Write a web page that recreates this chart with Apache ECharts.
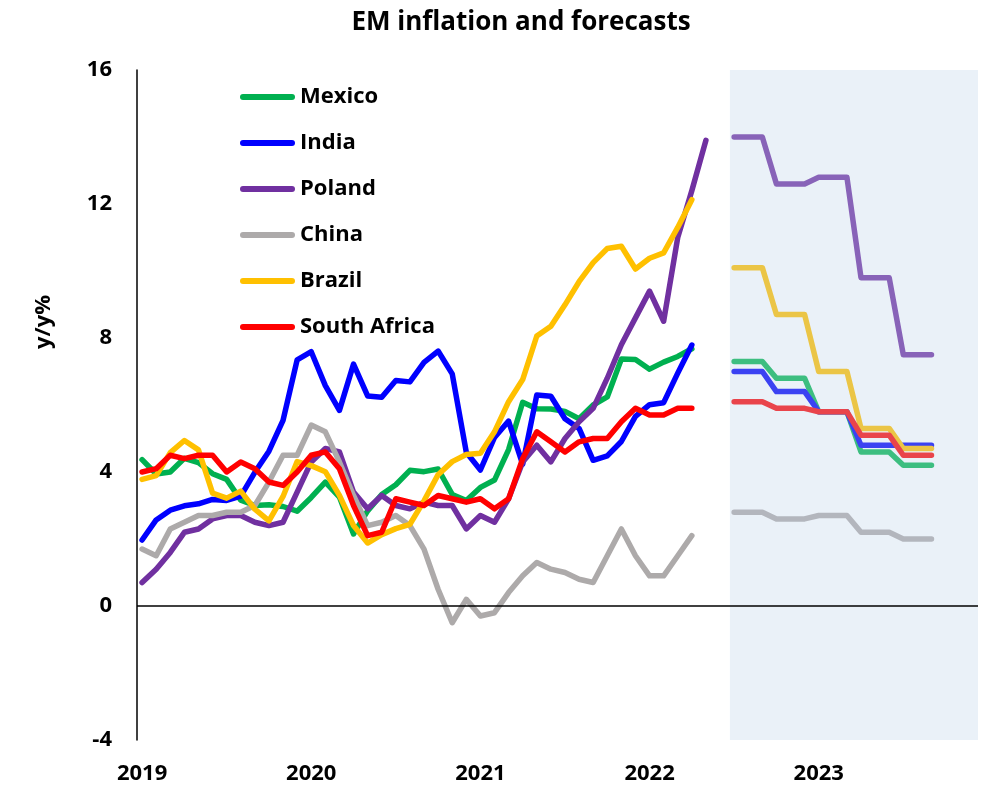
<!DOCTYPE html>
<html><head><meta charset="utf-8">
<script src="https://cdn.jsdelivr.net/npm/echarts@6/dist/echarts.min.js"></script>
<style>html,body{margin:0;padding:0;background:#fff}#c{width:987px;height:791px}</style>
</head><body><div id="c"></div>
<script>
// Monthly index 0 = Jan 2019
const yearLabels = ['2019', '2020', '2021', '2022', '2023'];
const yearTickMonths = [0, 12, 24, 36, 48];
const forecastStartMonth = 42; // Jul 2022
const yTicks = [-4, 0, 4, 8, 12, 16];

// Actual y/y inflation, Jan 2019 onward
const mexico = [4.37,3.94,4.00,4.41,4.28,3.95,3.78,3.16,3.00,3.02,2.97,2.83,
  3.24,3.70,3.25,2.15,2.84,3.33,3.62,4.05,4.01,4.09,3.33,3.15,
  3.54,3.76,4.67,6.08,5.89,5.88,5.81,5.59,6.00,6.24,7.37,7.36,
  7.07,7.28,7.45,7.68];
const india = [1.97,2.57,2.86,2.99,3.05,3.18,3.15,3.28,3.99,4.62,5.54,7.35,
  7.59,6.58,5.84,7.22,6.27,6.23,6.73,6.69,7.27,7.61,6.93,4.59,
  4.06,5.03,5.52,4.23,6.30,6.26,5.59,5.30,4.35,4.48,4.91,5.66,
  6.01,6.07,6.95,7.79];
const poland = [0.7,1.1,1.6,2.2,2.3,2.6,2.7,2.7,2.5,2.4,2.5,3.4,
  4.3,4.7,4.6,3.4,2.9,3.3,3.0,2.9,3.1,3.0,3.0,2.3,
  2.7,2.5,3.2,4.3,4.8,4.3,5.0,5.5,5.9,6.8,7.8,8.6,
  9.4,8.5,11.0,12.4,13.9];
const china = [1.7,1.5,2.3,2.5,2.7,2.7,2.8,2.8,3.0,3.7,4.5,4.5,
  5.4,5.2,4.3,3.3,2.4,2.5,2.7,2.4,1.7,0.5,-0.5,0.2,
  -0.3,-0.2,0.4,0.9,1.3,1.1,1.0,0.8,0.7,1.5,2.3,1.5,
  0.9,0.9,1.5,2.1];
const brazil = [3.78,3.89,4.58,4.94,4.66,3.37,3.22,3.43,2.89,2.54,3.27,4.31,
  4.19,4.01,3.30,2.40,1.88,2.13,2.31,2.44,3.14,3.92,4.31,4.52,
  4.56,5.20,6.10,6.76,8.06,8.35,8.99,9.68,10.25,10.67,10.74,10.06,
  10.38,10.54,11.30,12.13];
const southAfrica = [4.0,4.1,4.5,4.4,4.5,4.5,4.0,4.3,4.1,3.7,3.6,4.0,
  4.5,4.6,4.1,3.0,2.1,2.2,3.2,3.1,3.0,3.3,3.2,3.1,
  3.2,2.9,3.2,4.4,5.2,4.9,4.6,4.9,5.0,5.0,5.5,5.9,
  5.7,5.7,5.9,5.9];

// Forecasts, Jul 2022 - Sep 2023 (monthly)
const mexicoF = [7.3,7.3,7.3,6.8,6.8,6.8,5.8,5.8,5.8,4.6,4.6,4.6,4.2,4.2,4.2];
const indiaF = [7.0,7.0,7.0,6.4,6.4,6.4,5.8,5.8,5.8,4.8,4.8,4.8,4.8,4.8,4.8];
const polandF = [14.0,14.0,14.0,12.6,12.6,12.6,12.8,12.8,12.8,9.8,9.8,9.8,7.5,7.5,7.5];
const chinaF = [2.8,2.8,2.8,2.6,2.6,2.6,2.7,2.7,2.7,2.2,2.2,2.2,2.0,2.0,2.0];
const brazilF = [10.1,10.1,10.1,8.7,8.7,8.7,7.0,7.0,7.0,5.3,5.3,5.3,4.7,4.7,4.7];
const southAfricaF = [6.1,6.1,6.1,5.9,5.9,5.9,5.8,5.8,5.8,5.1,5.1,5.1,4.5,4.5,4.5];

const countries = ['Mexico', 'India', 'Poland', 'China', 'Brazil', 'South Africa'];
const actuals = [mexico, india, poland, china, brazil, southAfrica];
const forecasts = [mexicoF, indiaF, polandF, chinaF, brazilF, southAfricaF];
const colors = ['#00B050', '#0000FF', '#7030A0', '#ADAAAA', '#FFC000', '#FF0000'];
const fColors = ['#3DBE80', '#3B42F2', '#8863B8', '#B3B6BD', '#EBC546', '#E9444B'];

const FONT = 'Open Sans';
const xMin = -0.36, xMax = 59.3, shadeStart = 41.7;

const series = [];
actuals.forEach((arr, k) => {
  const s = {
    name: countries[k], type: 'line', symbol: 'none', smooth: false,
    color: colors[k],
    lineStyle: { color: colors[k], width: 5.5, join: 'round', cap: 'round' },
    data: arr.map((v, i) => [i, v]), z: 3
  };
  if (k === 0) {
    s.markArea = { silent: true, itemStyle: { color: '#EAF1F8' },
      data: [[{ xAxis: shadeStart }, { xAxis: xMax }]] };
    s.markLine = { silent: true, symbol: ['none', 'none'], label: { show: false },
      lineStyle: { color: '#000', width: 1.5, type: 'solid' }, data: [{ yAxis: 0 }] };
  }
  series.push(s);
});
forecasts.forEach((arr, k) => {
  series.push({
    name: countries[k] + ' forecast', type: 'line', symbol: 'none',
    color: fColors[k],
    lineStyle: { color: fColors[k], width: 5.5, join: 'round', cap: 'round' },
    data: arr.map((v, i) => [forecastStartMonth + i, v]), z: 3
  });
});

const chart = echarts.init(document.getElementById('c'), null, { renderer: 'canvas' });
chart.setOption({
  animation: false,
  backgroundColor: '#fff',
  grid: { left: 137, right: 9, top: 70, bottom: 51, containLabel: false },
  legend: {
    data: countries, orient: 'vertical', left: 240, top: 86, padding: 0, itemGap: 24,
    icon: 'path://M3,0L52,0A3,3,0,0,1,52,6L3,6A3,3,0,0,1,3,0Z',
    itemWidth: 55, itemHeight: 6, selectedMode: false,
    textStyle: { fontFamily: FONT, fontWeight: 'bold', fontSize: 22, color: '#000' }
  },
  xAxis: {
    type: 'value', min: xMin, max: xMax,
    axisLine: { show: false }, axisTick: { show: false }, splitLine: { show: false },
    axisLabel: {
      customValues: yearTickMonths,
      formatter: v => yearLabels[yearTickMonths.indexOf(Math.round(v))] || '',
      fontFamily: FONT, fontWeight: 'bold', fontSize: 22, color: '#000', margin: 23
    }
  },
  yAxis: {
    type: 'value', min: -4, max: 16, interval: 4,
    axisLine: { show: true, onZero: false, lineStyle: { color: '#000', width: 1.5 } },
    axisTick: { show: false }, splitLine: { show: false },
    axisLabel: { fontFamily: FONT, fontWeight: 'bold', fontSize: 22, color: '#000', margin: 25 }
  },
  graphic: [
    { type: 'text', x: 521, y: 23, style: { text: 'EM inflation and forecasts', fill: '#000',
      font: 'bold 26px "' + FONT + '"', textAlign: 'center', textVerticalAlign: 'middle' } },
    { type: 'text', x: 44, y: 322, rotation: Math.PI / 2, style: { text: 'y/y%', fill: '#000',
      font: 'bold 22px "' + FONT + '"', textAlign: 'center', textVerticalAlign: 'middle' } }
  ],
  series: series
});
</script></body></html>
